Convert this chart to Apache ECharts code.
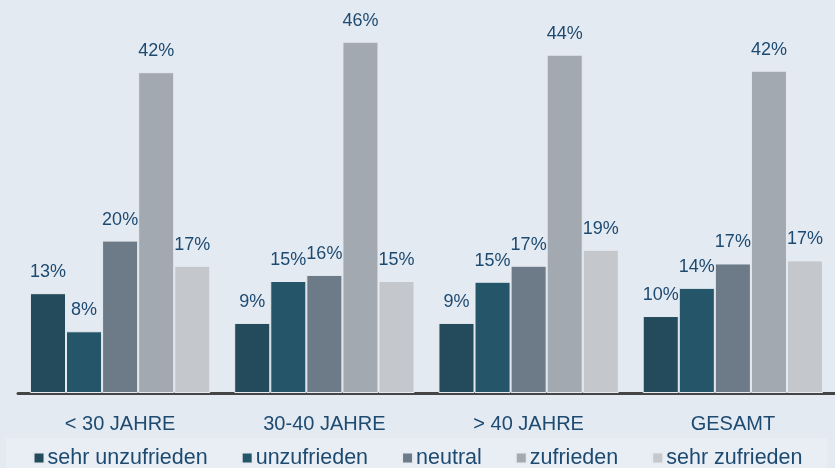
<!DOCTYPE html>
<html>
<head>
<meta charset="utf-8">
<script src="https://cdn.jsdelivr.net/npm/echarts@6/dist/echarts.min.js"></script>
<style>
html,body{margin:0;padding:0;background:#e4eaf2;}
#chart{width:835px;height:468px;}
</style>
</head>
<body>
<div id="chart"></div>
<script>
const categories = ['< 30 JAHRE', '30-40 JAHRE', '> 40 JAHRE', 'GESAMT'];
const seriesNames = ['sehr unzufrieden', 'unzufrieden', 'neutral', 'zufrieden', 'sehr zufrieden'];
const sehrUnzufrieden = [13.1, 9.2, 9.2, 10.1];
const unzufrieden = [8.1, 14.7, 14.6, 13.8];
const neutral = [20.0, 15.5, 16.7, 17.0];
const zufrieden = [42.1, 46.1, 44.4, 42.3];
const sehrZufrieden = [16.7, 14.7, 18.8, 17.4];
const colors = ['#234b5c', '#245569', '#6d7b89', '#a3a9b1', '#c4c7cc'];

const seriesData = [sehrUnzufrieden, unzufrieden, neutral, zufrieden, sehrZufrieden];
const FONT = "'Liberation Sans', Arial, sans-serif";
const textColor = '#1d4a70';

const chart = echarts.init(document.getElementById('chart'), null, {renderer: 'canvas'});
chart.setOption({
  backgroundColor: '#e4eaf2',
  animation: false,
  color: colors,
  graphic: [{
    type: 'rect', z: -1, silent: true,
    shape: {x: 6, y: 438, width: 821, height: 30},
    style: {fill: '#e9eef4'}
  }],
  grid: {left: 18, right: -3, top: 12, bottom: 75, containLabel: false},
  legend: {
    top: 442, left: 'center',
    itemWidth: 11, itemHeight: 11, itemGap: 33,
    icon: 'rect',
    textStyle: {fontFamily: FONT, fontSize: 21.5, color: textColor, padding: [0, 0, 0, -2]},
    data: seriesNames
  },
  xAxis: {
    type: 'category', data: categories,
    axisLine: {show: true, lineStyle: {color: '#454545', width: 3}},
    axisTick: {show: false},
    axisLabel: {fontFamily: FONT, fontSize: 20, color: textColor, margin: 21}
  },
  yAxis: {
    type: 'value', min: 0, max: 50, show: false,
    splitLine: {show: false}
  },
  series: seriesData.map((d, i) => ({
    name: seriesNames[i], type: 'bar', data: d,
    barGap: '0%', barCategoryGap: '11.7%',
    itemStyle: {color: colors[i], borderColor: '#e6ebf1', borderWidth: 1},
    label: {
      show: true, position: 'top', distance: 12,
      fontFamily: FONT, fontSize: 18, color: textColor,
      formatter: p => Math.round(p.value) + '%'
    }
  }))
});
</script>
</body>
</html>
